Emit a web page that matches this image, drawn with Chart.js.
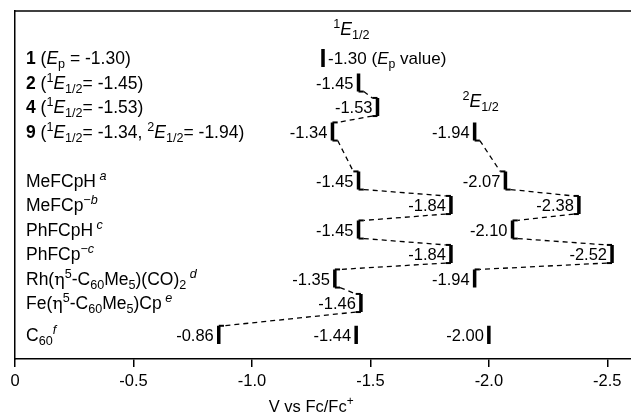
<!DOCTYPE html>
<html>
<head>
<meta charset="utf-8">
<script src="https://cdn.jsdelivr.net/npm/chart.js@4.4.1/dist/chart.umd.min.js"></script>
<style>
  html, body { margin: 0; padding: 0; background: #fff; }
  #wrap { width: 631px; height: 414px; position: relative; }
</style>
</head>
<body>
<div id="wrap"><canvas id="chart"></canvas></div>
<script>
// --- Dados ---
// rótulos dos compostos: [texto, estilo]  b=negrito i=itálico ^=sobrescrito _=subscrito g=grego
const rowLabels = [
  [['1', 'b'], [' ('], ['E', 'i'], ['p', '_'], [' = -1.30)']],
  [['2', 'b'], [' ('], ['1', '^'], ['E', 'i'], ['1/2', '_'], ['= -1.45)']],
  [['4', 'b'], [' ('], ['1', '^'], ['E', 'i'], ['1/2', '_'], ['= -1.53)']],
  [['9', 'b'], [' ('], ['1', '^'], ['E', 'i'], ['1/2', '_'], ['= -1.34, '], ['2', '^'], ['E', 'i'], ['1/2', '_'], ['= -1.94)']],
  [['MeFCpH'], [' a', 'i^']],
  [['MeFCp'], ['\u2212', '^'], ['b', 'i^']],
  [['PhFCpH'], [' c', 'i^']],
  [['PhFCp'], ['\u2212', '^'], ['c', 'i^']],
  [['Rh('], ['\u03b7', 'g'], ['5', '^'], ['-C'], ['60', '_'], ['Me'], ['5', '_'], [')(CO)'], ['2', '_'], [' d', 'i^']],
  [['Fe('], ['\u03b7', 'g'], ['5', '^'], ['-C'], ['60', '_'], ['Me'], ['5', '_'], [')Cp'], [' e', 'i^']],
  [['C'], ['60', '_'], ['f', 'i^']]
];
const firstE  = [-1.30, -1.45, -1.53, -1.34, -1.45, -1.84, -1.45, -1.84, -1.35, -1.46, -0.86];
const secondE = [null, null, null, -1.94, -2.07, -2.38, -2.10, -2.52, -1.94, null, -1.44];
const thirdE  = [null, null, null, null, null, null, null, null, null, null, -2.00];
// linhas tracejadas: [linha inicial, linha final] de cada cadeia
const chainFirst = [1, 10];
const chainSecond = [3, 8];
const xTicks = [0, -0.5, -1.0, -1.5, -2.0, -2.5];

const FONT = '"Liberation Sans", Arial, sans-serif';
const SERIF = 0.022;   // comprimento do "pé" do colchete (V)
const HALF = 0.37;     // meia altura da barra (linhas)

// posição vertical de cada linha (espaço extra antes dos compostos de referência e do C60)
function slotOf(i) {
  let s = i;
  if (i > 3) s += 1;
  if (i > 9) s += 0.3;
  return s;
}

// =======================
// Monta os datasets
// =======================
const datasets = [];
function seg(p1, p2, width, dash) {
  datasets.push({
    data: [p1, p2],
    showLine: true,
    borderColor: '#000',
    borderWidth: width,
    borderDash: dash || [],
    borderCapStyle: 'butt',
    pointRadius: 0
  });
}

function inChain(chain, i) { return i >= chain[0] && i <= chain[1]; }

function addSeries(values, chain) {
  values.forEach((v, i) => {
    if (v === null) return;
    const s = slotOf(i);
    seg({ x: v, y: s - HALF }, { x: v, y: s + HALF }, 3.5);
    if (!chain) return;
    if (inChain(chain, i) && i > chain[0]) {
      const d = Math.sign(values[i - 1] - v);
      seg({ x: v, y: s - HALF }, { x: v + d * SERIF, y: s - HALF }, 2);
    }
    if (inChain(chain, i) && i < chain[1]) {
      const next = values[i + 1];
      const d = Math.sign(next - v);
      const s2 = slotOf(i + 1);
      seg({ x: v, y: s + HALF }, { x: v + d * SERIF, y: s + HALF }, 2);
      seg({ x: v + d * SERIF, y: s + HALF }, { x: next - d * SERIF, y: s2 - HALF }, 1.3, [5, 4]);
    }
  });
}
addSeries(firstE, chainFirst);
addSeries(secondE, chainSecond);
addSeries(thirdE, null);

// =======================
// Texto com sobrescrito / subscrito
// =======================
function segFont(style, size) {
  const small = style.includes('^') || style.includes('_');
  const sz = small ? size * 0.72 : size;
  let f = '';
  if (style.includes('i')) f += 'italic ';
  if (style.includes('b')) f += 'bold ';
  const fam = style.includes('g') ? '"DejaVu Serif", serif' : FONT;
  return { font: f + sz + 'px ' + fam, sz };
}

function richWidth(ctx, segs, size) {
  let w = 0;
  segs.forEach(([t, st = '']) => {
    ctx.font = segFont(st, size).font;
    w += ctx.measureText(t).width;
  });
  return w;
}

function drawRich(ctx, segs, x, y, size, align) {
  ctx.save();
  ctx.fillStyle = '#000';
  ctx.textBaseline = 'alphabetic';
  ctx.textAlign = 'left';
  if (align === 'right') x -= richWidth(ctx, segs, size);
  if (align === 'center') x -= richWidth(ctx, segs, size) / 2;
  segs.forEach(([t, st = '']) => {
    const f = segFont(st, size);
    ctx.font = f.font;
    let dy = 0;
    if (st.includes('^')) dy = -0.42 * size;
    if (st.includes('_')) dy = 0.22 * size;
    ctx.fillText(t, x, y + dy);
    x += ctx.measureText(t).width;
  });
  ctx.restore();
}

const labelsPlugin = {
  id: 'labels',
  afterDatasetsDraw(chart) {
    const ctx = chart.ctx;
    const xs = chart.scales.x, ys = chart.scales.y;
    const area = chart.chartArea;

    // linha superior da moldura
    ctx.save();
    ctx.strokeStyle = '#000';
    ctx.lineWidth = 1.5;
    ctx.beginPath();
    ctx.moveTo(area.left, area.top);
    ctx.lineTo(area.right, area.top);
    ctx.stroke();
    ctx.restore();

    // nomes dos compostos
    rowLabels.forEach((segs, i) => {
      const py = ys.getPixelForValue(slotOf(i));
      drawRich(ctx, segs, area.left + 11, py + 6.5, 17.5);
    });

    // valores ao lado das barras
    [firstE, secondE, thirdE].forEach((values) => {
      values.forEach((v, i) => {
        if (v === null) return;
        const px = xs.getPixelForValue(v);
        const py = ys.getPixelForValue(slotOf(i)) + 6.3;
        const txt = v.toFixed(2);
        if (i === 0) {
          drawRich(ctx, [[txt + ' ('], ['E', 'i'], ['p', '_'], [' value)']], px + 5, py, 17);
        } else {
          drawRich(ctx, [[txt]], px - 5, py, 16.5, 'right');
        }
      });
    });

    // cabeçalhos das colunas
    const h1 = [['1', '^'], ['E', 'i'], ['1/2', '_']];
    drawRich(ctx, h1, xs.getPixelForValue(-1.42), area.top + 24, 17.5, 'center');
    drawRich(ctx, h1.map((s, k) => k === 0 ? ['2', '^'] : s), xs.getPixelForValue(-1.965), ys.getPixelForValue(2.02), 17.5, 'center');

    // título do eixo x, centrado no intervalo das marcas
    const tx = (xs.getPixelForValue(xTicks[0]) + xs.getPixelForValue(xTicks[xTicks.length - 1])) / 2;
    drawRich(ctx, [['V vs Fc/Fc'], ['+', '^']], tx, 411.5, 16.5, 'center');
  }
};

// =======================
// Gráfico
// =======================
const ctxChart = document.getElementById('chart').getContext('2d');
const chart = new Chart(ctxChart, {
  type: 'scatter',
  data: { datasets },
  options: {
    responsive: true,
    maintainAspectRatio: false,
    animation: false,
    layout: { padding: { left: 15, top: 11, right: 0, bottom: 0 } },
    plugins: {
      legend: { display: false },
      tooltip: { enabled: false }
    },
    scales: {
      x: {
        type: 'linear',
        min: -2.6,
        max: 0,
        reverse: true,
        afterBuildTicks: (s) => { s.ticks = xTicks.map(v => ({ value: v })); },
        afterFit: (s) => { s.height = 55; },
        ticks: {
          color: '#000',
          font: { family: FONT, size: 16.5 },
          padding: 5,
          maxRotation: 0,
          callback: (v) => v === 0 ? '0' : Number(v).toFixed(1)
        },
        grid: { drawOnChartArea: false, drawTicks: true, tickLength: 8, color: '#000', lineWidth: 1.5 },
        border: { color: '#000', width: 1.5 }
      },
      y: {
        type: 'linear',
        min: -1.918,
        max: 12.286,
        reverse: true,
        afterFit: (s) => { s.width = 0; },
        ticks: { display: false },
        grid: { drawOnChartArea: false, drawTicks: false },
        border: { color: '#000', width: 1.5 }
      }
    }
  },
  plugins: [labelsPlugin]
});
</script>
</body>
</html>
